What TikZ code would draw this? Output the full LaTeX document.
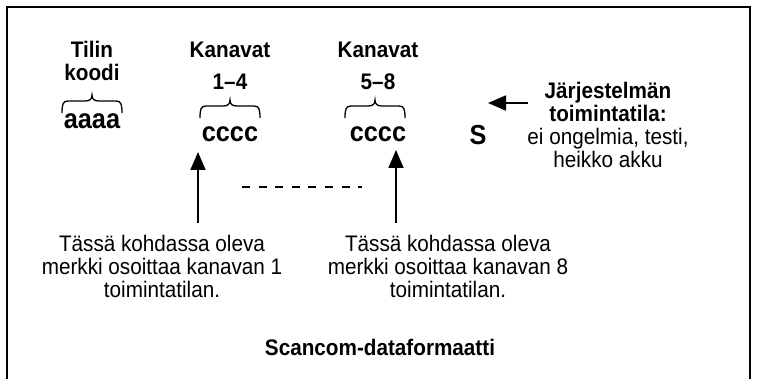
\documentclass[tikz,border=0pt]{standalone}
\usepackage{fontspec}
\setmainfont{Liberation Sans}[FakeStretch=0.92]
\usetikzlibrary{arrows.meta,positioning}

\begin{document}
\begin{tikzpicture}[
  x=1pt, y=-1pt,
  head/.style={font=\fontsize{22.5}{22.5}\selectfont\bfseries, align=center, inner sep=0pt},
  code/.style={font=\fontsize{27.5}{30}\selectfont\bfseries, inner sep=0pt},
  note/.style={font=\fontsize{22.5}{23}\selectfont, align=center, inner sep=0pt},
  grp/.style={line width=1.3pt},
  groupbrace/.pic={
    \draw[grp] (-30,0) .. controls (-30,-9) and (-29,-12) .. (-24,-12) -- (-7,-12)
      .. controls (-2,-12) and (0,-14) .. (0,-18)
      .. controls (0,-14) and (2,-12) .. (7,-12) -- (24,-12)
      .. controls (29,-12) and (30,-9) .. (30,0);
  },
  pointer/.style={-{Triangle[length=18pt, width=15pt]}, line width=1.8pt},
]
  \useasboundingbox (0,0) rectangle (757,379);
  % open frame
  \draw[line width=2.3pt] (7,379) -- (7,7) -- (750,7) -- (750,379);

  % account code
  \node[head] (acchead) at (92,61) {Tilin\\koodi};
  \node[code] (acc) at (92,121.5) {aaaa};
  \pic at (92,113) {groupbrace};

  % channels 1-4
  \node[head] (ch1head) at (230,49.5) {Kanavat};
  \node[head] (ch1num) at (230,82) {1--4};
  \node[code] (ch1) at (230,134) {cccc};
  \pic at (230,118) {groupbrace};

  % channels 5-8
  \node[head] (ch2head) at (378,49.5) {Kanavat};
  \node[head] (ch2num) at (378,82) {5--8};
  \node[code] (ch2) at (378,134) {cccc};
  \pic at (375,118) {groupbrace};

  % system status
  \node[code] (sys) at (478,135) {S};
  \node[note] (status) at (608,125)
    {\textbf{Järjestelmän}\\\textbf{toimintatila:}\\ei ongelmia, testi,\\heikko akku};
  \coordinate (statustail) at (528,103);
  \coordinate (statustip) at (488,103);
  \draw[pointer] (statustail) -- (statustip);

  % further channels
  \draw[line width=1.6pt, dash pattern=on 8pt off 8.6pt] (242,187) -- (362,187);

  % notes on channel 1 and 8
  \node[note] (note1) at (162,266) {Tässä kohdassa oleva\\merkki osoittaa kanavan 1\\toimintatilan.};
  \node[note] (note8) at (448,266) {Tässä kohdassa oleva\\merkki osoittaa kanavan 8\\toimintatilan.};
  \coordinate (tip1) at (198,152);
  \coordinate (tail1) at (198,223);
  \coordinate (tip8) at (396,150);
  \coordinate (tail8) at (396,223);
  \draw[pointer] (tail1) -- (tip1);
  \draw[pointer] (tail8) -- (tip8);

  % caption
  \node[head] (caption) at (380,347) {Scancom-dataformaatti};
\end{tikzpicture}
\end{document}
